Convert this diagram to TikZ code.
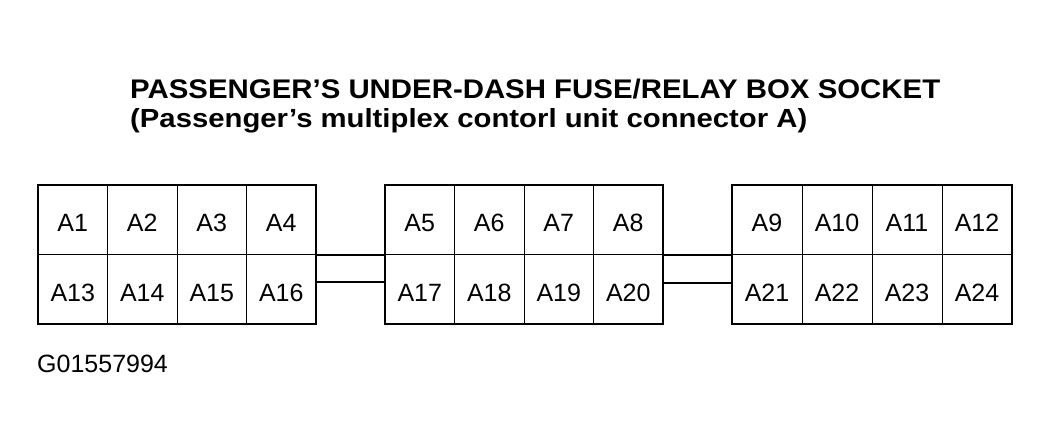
\documentclass[tikz,border=0pt]{standalone}
\usepackage{fontspec}
\setmainfont{Liberation Sans}
\usetikzlibrary{fit}
\begin{document}
\begin{tikzpicture}[x=1pt,y=-1pt,
  cell/.style={draw, line width=1pt, inner sep=0pt, outer sep=0pt,
    minimum height=69.5pt, anchor=north west,
    text height=24pt, text depth=0pt,
    font=\fontsize{25}{25}\selectfont},
  box/.style={draw, line width=2pt, inner sep=0pt, fit=#1},
  wire/.style={line width=2pt},
  plain/.style={inner sep=0pt, anchor=base west}]
\useasboundingbox (0,0) rectangle (1049,447);
% title
\node[plain] (title) at (130,98)
  {\resizebox{810pt}{19.5pt}{\bfseries PASSENGER'S UNDER-DASH FUSE/RELAY BOX SOCKET}};
\node[plain] (subtitle) at (130,127)
  {\resizebox{677pt}{19pt}{\bfseries (Passenger's multiplex contorl unit connector A)}};
% cells
\foreach \x/\w/\first in {38/69.5/1, 385/69.5/5, 732/70/9}{
  \foreach \i in {0,1,2,3}{
    \pgfmathtruncatemacro{\nt}{\first+\i}
    \pgfmathtruncatemacro{\nb}{\first+12+\i}
    \node[cell, minimum width=\w pt] (c\nt) at (\x+\i*\w,185) {A\nt};
    \node[cell, minimum width=\w pt] (c\nb) at (\x+\i*\w,254.5) {A\nb};
  }
}
\node[box={(c1)(c16)}] (box1) {};
\node[box={(c5)(c20)}] (box2) {};
\node[box={(c9)(c24)}] (box3) {};
% connectors
\draw[wire] (box1.east) -- (box2.west);
\draw[wire] ([yshift=-27pt]box1.east) -- ([yshift=-27pt]box2.west);
\draw[wire] (box2.east) -- (box3.west);
\draw[wire] ([yshift=-28pt]box2.east) -- ([yshift=-28pt]box3.west);
% code
\node[plain, font=\fontsize{25}{25}\selectfont] (code) at (37,372) {G01557994};
\end{tikzpicture}
\end{document}
